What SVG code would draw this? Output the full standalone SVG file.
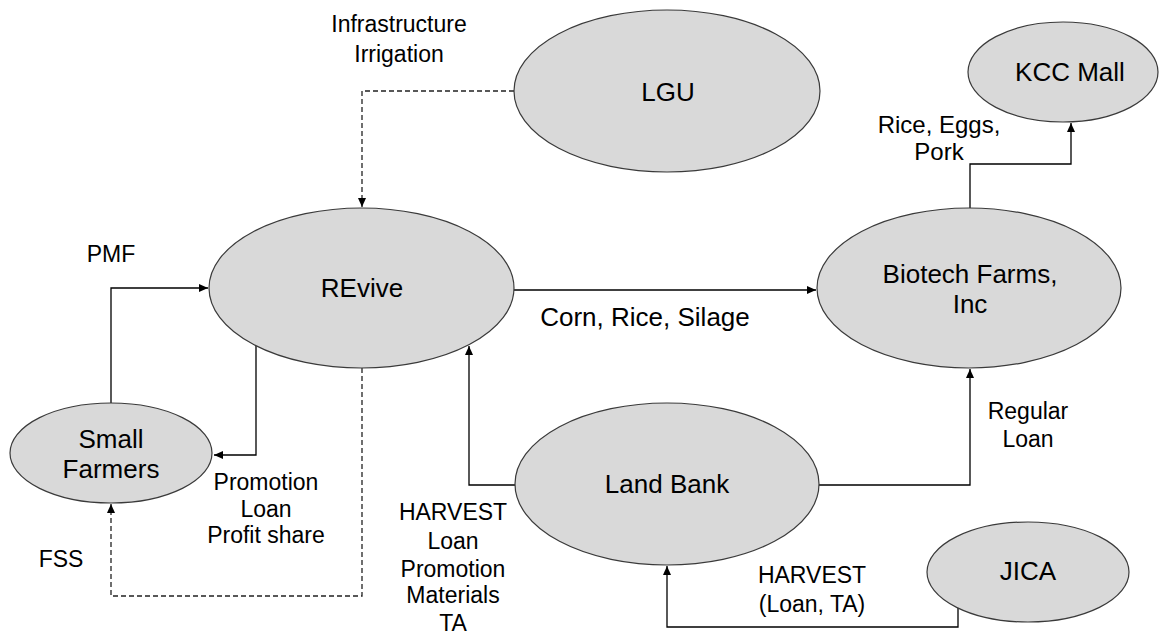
<svg xmlns="http://www.w3.org/2000/svg" width="1161" height="634" viewBox="0 0 1161 634">
  <style>
    .node ellipse { fill: #d9d9d9; stroke: #3a3a3a; stroke-width: 1.2; }
    .nl { font-family: "Liberation Sans", Arial, sans-serif; font-size: 26px; fill: #000; text-anchor: middle; }
    .el { font-family: "Liberation Sans", Arial, sans-serif; font-size: 23px; fill: #000; text-anchor: middle; }
    .c { fill: none; stroke: #000; stroke-width: 1.3; }
    .d { fill: none; stroke: #222; stroke-width: 1.3; stroke-dasharray: 5 3; }
  </style>
  <defs>
    <marker id="arr" markerUnits="userSpaceOnUse" markerWidth="10" markerHeight="8" refX="9" refY="4" orient="auto">
      <path d="M0,0 L9,4 L0,8 z" fill="#000"/>
    </marker>
  </defs>
  <rect width="1161" height="634" fill="#fff"/>

  <g id="connectors">
    <path class="d" d="M514,91 H362 V207" marker-end="url(#arr)"/>
    <path class="c" d="M111,403 V288 H208" marker-end="url(#arr)"/>
    <path class="c" d="M256,346 V455 H214" marker-end="url(#arr)"/>
    <path class="d" d="M362,368 V596 H111 V504" marker-end="url(#arr)"/>
    <path class="c" d="M514,290 H816" marker-end="url(#arr)"/>
    <path class="c" d="M970,208 V164 H1071 V123" marker-end="url(#arr)"/>
    <path class="c" d="M515,485 H469 V346" marker-end="url(#arr)"/>
    <path class="c" d="M819,485 H970 V369" marker-end="url(#arr)"/>
    <path class="c" d="M958,608 V627 H667 V566" marker-end="url(#arr)"/>
  </g>

  <g id="labels">
    <text class="el" x="399" y="32">Infrastructure</text>
    <text class="el" x="399" y="61.5">Irrigation</text>
    <text class="el" x="111" y="262">PMF</text>
    <text class="el" x="645" y="326" style="font-size:26px">Corn, Rice, Silage</text>
    <text class="el" x="939" y="133" style="font-size:24px">Rice, Eggs,</text>
    <text class="el" x="939" y="160" style="font-size:24px">Pork</text>
    <text class="el" x="266" y="490">Promotion</text>
    <text class="el" x="266" y="517">Loan</text>
    <text class="el" x="266" y="543">Profit share</text>
    <text class="el" x="61" y="567">FSS</text>
    <text class="el" x="453" y="520">HARVEST</text>
    <text class="el" x="453" y="549">Loan</text>
    <text class="el" x="453" y="577">Promotion</text>
    <text class="el" x="453" y="603">Materials</text>
    <text class="el" x="453" y="631">TA</text>
    <text class="el" x="1028" y="419">Regular</text>
    <text class="el" x="1028" y="447">Loan</text>
    <text class="el" x="812" y="583">HARVEST</text>
    <text class="el" x="812" y="612">(Loan, TA)</text>
  </g>

  <g id="node-lgu" class="node">
    <ellipse cx="667" cy="91" rx="153" ry="81"/>
    <text class="nl" x="668" y="101">LGU</text>
  </g>
  <g id="node-kcc" class="node">
    <ellipse cx="1063" cy="72" rx="95" ry="50"/>
    <text class="nl" x="1070" y="81">KCC Mall</text>
  </g>
  <g id="node-revive" class="node">
    <ellipse cx="361.5" cy="288" rx="152.5" ry="80"/>
    <text class="nl" x="362" y="297">REvive</text>
  </g>
  <g id="node-biotech" class="node">
    <ellipse cx="969" cy="288" rx="152" ry="80"/>
    <text class="nl" x="970" y="283">Biotech Farms,</text>
    <text class="nl" x="970" y="313">Inc</text>
  </g>
  <g id="node-smallfarmers" class="node">
    <ellipse cx="111" cy="453" rx="101" ry="50"/>
    <text class="nl" x="111" y="448">Small</text>
    <text class="nl" x="111" y="478">Farmers</text>
  </g>
  <g id="node-landbank" class="node">
    <ellipse cx="667" cy="484" rx="152" ry="81"/>
    <text class="nl" x="667" y="493">Land Bank</text>
  </g>
  <g id="node-jica" class="node">
    <ellipse cx="1028" cy="572" rx="101" ry="50"/>
    <text class="nl" x="1028" y="580">JICA</text>
  </g>
</svg>
